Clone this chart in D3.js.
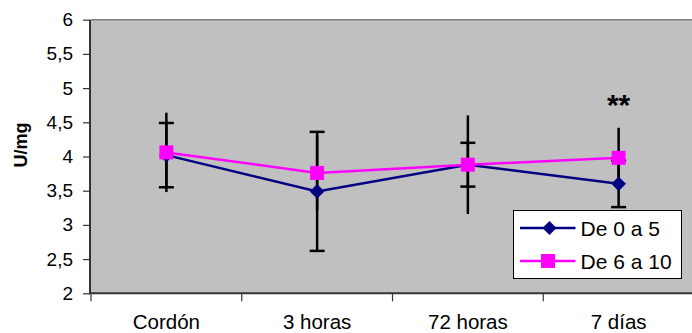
<!DOCTYPE html>
<html>
<head>
<meta charset="utf-8">
<script src="https://cdn.jsdelivr.net/npm/d3@7"></script>
<style>
  html, body { margin: 0; padding: 0; background: #fff; }
  svg { display: block; font-family: "Liberation Sans", Arial, sans-serif; }
</style>
</head>
<body>
<svg id="chart" width="692" height="333"></svg>
<script>
// Categories and series
const categories = ["Cordón", "3 horas", "72 horas", "7 días"];
const seriesNames = ["De 0 a 5", "De 6 a 10"];
const valuesA = [4.02, 3.49, 3.88, 3.60];   // De 0 a 5
const errorsA = [0.47, 0.87, 0.32, 0.34];
const valuesB = [4.06, 3.76, 3.88, 3.98];   // De 6 a 10
const errorsB = [0.58, 0.55, 0.72, 0.44];
const yTicks = [2, 2.5, 3, 3.5, 4, 4.5, 5, 5.5, 6];
const annotations = [{ category: "7 días", text: "**" }];

const svg = d3.select("#chart");
const plot = { left: 91, right: 694, top: 19.7, bottom: 293.3 };

const x = d3.scaleBand().domain(categories).range([plot.left, plot.right]).padding(0);
const y = d3.scaleLinear().domain([2, 6]).range([plot.bottom, plot.top]);
const cx = c => x(c) + x.bandwidth() / 2;

const locale = d3.formatLocale({ decimal: ",", thousands: ".", grouping: [3], currency: ["", "€"] });
const fmt = locale.format("~g");

// plot area
svg.append("rect")
  .attr("x", plot.left).attr("y", plot.top)
  .attr("width", plot.right - plot.left).attr("height", plot.bottom - plot.top)
  .attr("fill", "#c0c0c0");
svg.append("line")
  .attr("x1", plot.left).attr("x2", plot.right)
  .attr("y1", plot.top).attr("y2", plot.top)
  .attr("stroke", "#808080").attr("stroke-width", 1.5);

// y axis
const yAxis = svg.append("g")
  .attr("transform", `translate(${plot.left - 1},0)`)
  .call(d3.axisLeft(y).tickValues(yTicks).tickFormat(fmt).tickSize(7).tickPadding(10));
yAxis.select(".domain").attr("stroke", "#333").attr("stroke-width", 2).attr("d", `M0,${plot.top}V${plot.bottom}`);
yAxis.selectAll(".tick line").attr("stroke", "#333").attr("stroke-width", 1.2);
yAxis.selectAll(".tick text").attr("font-size", 19).attr("fill", "#000").attr("font-family", "Liberation Sans, Arial, sans-serif");

// x axis
const xAxis = svg.append("g")
  .attr("transform", `translate(0,${plot.bottom})`)
  .call(d3.axisBottom(x).tickSize(0).tickPadding(0));
xAxis.select(".domain").attr("stroke", "#333").attr("stroke-width", 2).attr("d", `M${plot.left - 2},0H${plot.right}`);
xAxis.selectAll(".tick text")
  .attr("font-size", 20.5).attr("fill", "#000").attr("font-family", "Liberation Sans, Arial, sans-serif")
  .attr("dy", null).attr("y", 35.5);
// category boundary ticks
const bounds = categories.map(c => x(c)).concat([plot.right]);
svg.append("g").selectAll("line").data(bounds).join("line")
  .attr("x1", d => d).attr("x2", d => d)
  .attr("y1", plot.bottom).attr("y2", plot.bottom + 8)
  .attr("stroke", "#333").attr("stroke-width", 1.2);

// y label
svg.append("text")
  .attr("x", -145).attr("y", 27)
  .attr("transform", "rotate(-90)")
  .attr("text-anchor", "middle")
  .attr("font-size", 18).attr("font-weight", "bold")
  .text("U/mg");

// error bars
const errG = svg.append("g").attr("stroke", "#000").attr("stroke-width", 2.5);
function errorBars(vals, errs, capped) {
  vals.forEach((v, i) => {
    const xc = cx(categories[i]);
    errG.append("line")
      .attr("x1", xc).attr("x2", xc)
      .attr("y1", y(v + errs[i])).attr("y2", y(v - errs[i]));
    if (capped) {
      [v + errs[i], v - errs[i]].forEach(e => {
        errG.append("line")
          .attr("x1", xc - 7.5).attr("x2", xc + 7.5)
          .attr("y1", y(e)).attr("y2", y(e));
      });
    }
  });
}
errorBars(valuesB, errorsB, false);
errorBars(valuesA, errorsA, true);

const line = d3.line().x((d, i) => cx(categories[i])).y(d => y(d));
const diamond = s => `M0,${-s}L${s},0L0,${s}L${-s},0Z`;

// series A
svg.append("path").datum(valuesA).attr("d", line)
  .attr("fill", "none").attr("stroke", "#000080").attr("stroke-width", 2.5);
svg.append("g").selectAll("path").data(valuesA).join("path")
  .attr("transform", (d, i) => `translate(${cx(categories[i])},${y(d)})`)
  .attr("d", diamond(7.3)).attr("fill", "#000080");

// series B
svg.append("path").datum(valuesB).attr("d", line)
  .attr("fill", "none").attr("stroke", "#ff00ff").attr("stroke-width", 2.5);
svg.append("g").selectAll("rect").data(valuesB).join("rect")
  .attr("x", (d, i) => cx(categories[i]) - 7).attr("y", d => y(d) - 7)
  .attr("width", 14).attr("height", 14).attr("fill", "#ff00ff");

// significance mark
svg.append("g").selectAll("text").data(annotations).join("text")
  .attr("x", d => cx(d.category)).attr("y", 115)
  .attr("text-anchor", "middle").attr("font-size", 30).attr("font-weight", "bold")
  .text(d => d.text);

// legend
const lg = svg.append("g").attr("transform", "translate(513.5,210.5)");
lg.append("rect").attr("width", 168).attr("height", 68)
  .attr("fill", "#fff").attr("stroke", "#000").attr("stroke-width", 1);
const legendItems = [
  { name: seriesNames[0], color: "#000080", shape: "diamond", y: 17.5 },
  { name: seriesNames[1], color: "#ff00ff", shape: "square", y: 50.5 }
];
legendItems.forEach(it => {
  lg.append("line").attr("x1", 6.5).attr("x2", 62).attr("y1", it.y).attr("y2", it.y)
    .attr("stroke", it.color).attr("stroke-width", 2.5);
  if (it.shape === "diamond") {
    lg.append("path").attr("transform", `translate(36,${it.y})`).attr("d", diamond(7)).attr("fill", it.color);
  } else {
    lg.append("rect").attr("x", 27.5).attr("y", it.y - 7).attr("width", 14).attr("height", 14).attr("fill", it.color);
  }
  lg.append("text").attr("x", 67).attr("y", it.y + 7.5)
    .attr("font-size", 21).text(it.name);
});
</script>
</body>
</html>
